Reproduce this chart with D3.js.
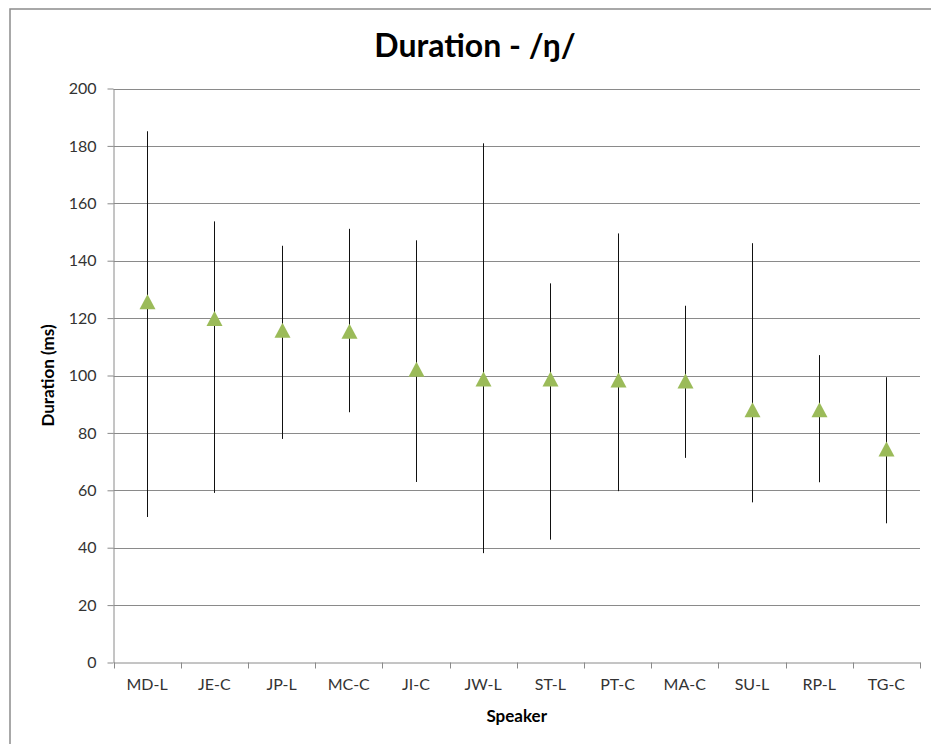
<!DOCTYPE html>
<html>
<head>
<meta charset="utf-8">
<script src="https://cdn.jsdelivr.net/npm/d3@7"></script>
<style>
  body { margin: 0; background: #fff; }
  text { font-family: Lato, "Open Sans", sans-serif; }
</style>
</head>
<body>
<svg id="chart" width="931" height="744"></svg>
<script>
// values (ms)
const speakers = ['MD-L', 'JE-C', 'JP-L', 'MC-C', 'JI-C', 'JW-L', 'ST-L', 'PT-C', 'MA-C', 'SU-L', 'RP-L', 'TG-C']
const means = [125.7, 119.9, 115.8, 115.4, 102.2, 98.8, 98.8, 98.4, 98.1, 88.1, 88.1, 74.4]
const maxs = [185.1, 153.7, 145.2, 151.1, 147.1, 180.9, 132.1, 149.5, 124.3, 146.1, 107.1, 99.4]
const mins = [50.7, 59.1, 77.9, 87.2, 62.9, 38.1, 42.8, 59.7, 71.3, 55.8, 62.8, 48.5]
const yTicks = [0, 20, 40, 60, 80, 100, 120, 140, 160, 180, 200]

const plot = { left: 113.5, right: 920, top: 88.5, bottom: 662.5 }
const gridColor = '#8a8a8a'
const green = '#9bbb59'

const svg = d3.select('#chart')

// outer chart frame (runs off the picture at right and bottom)
svg.append('rect')
    .attr('x', 10).attr('y', 9)
    .attr('width', 980).attr('height', 800)
    .attr('fill', '#fff')
    .attr('stroke', '#8c8c8c')
    .attr('stroke-width', 1.5)

const x = d3.scaleBand()
    .domain(speakers)
    .range([plot.left, plot.right])

const y = d3.scaleLinear()
    .domain([0, 200])
    .range([plot.bottom, plot.top])

// horizontal gridlines
svg.append('g')
    .selectAll('line')
    .data(yTicks.filter(d => d > 0))
    .join('line')
    .attr('x1', plot.left).attr('x2', plot.right)
    .attr('y1', d => Math.round(y(d)) + 0.5)
    .attr('y2', d => Math.round(y(d)) + 0.5)
    .attr('stroke', gridColor)
    .attr('stroke-width', 1)

// y axis
const yAxis = svg.append('g')
    .attr('transform', `translate(${plot.left},0)`)
    .call(d3.axisLeft(y).tickValues(yTicks).tickSize(6).tickSizeOuter(0).tickPadding(11))
yAxis.select('.domain').attr('stroke', gridColor)
yAxis.selectAll('.tick line').attr('stroke', gridColor)
yAxis.selectAll('.tick text')
    .attr('font-size', 16)
    .attr('fill', '#333')
    .style('font-family', 'Lato, sans-serif')

// x axis: labels at band centres, tick marks between categories
const xAxis = svg.append('g')
    .attr('transform', `translate(0,${plot.bottom})`)
    .call(d3.axisBottom(x).tickSize(0).tickPadding(16))
xAxis.select('.domain').attr('stroke', gridColor)
xAxis.selectAll('.tick text')
    .attr('font-size', 16)
    .attr('fill', '#333')
    .style('font-family', 'Lato, sans-serif')

const bounds = speakers.map(d => x(d)).concat([x.range()[1]])
xAxis.selectAll('line.sep')
    .data(bounds)
    .join('line')
    .attr('class', 'sep')
    .attr('x1', d => Math.round(d) + 0.5).attr('x2', d => Math.round(d) + 0.5)
    .attr('y1', 0).attr('y2', 6)
    .attr('stroke', gridColor)

// range lines (min to max)
const cx = d => x(d) + x.bandwidth() / 2
svg.append('g')
    .selectAll('line')
    .data(speakers)
    .join('line')
    .attr('x1', (d, i) => Math.round(cx(d)) + 0.5)
    .attr('x2', (d, i) => Math.round(cx(d)) + 0.5)
    .attr('y1', (d, i) => y(maxs[i]))
    .attr('y2', (d, i) => y(mins[i]))
    .attr('stroke', '#111')
    .attr('stroke-width', 1)

// triangle markers, box centred on the value
const triangle = (px, py) => {
    const p = d3.path()
    p.moveTo(px, py - 7.5)
    p.lineTo(px + 8, py + 7.5)
    p.lineTo(px - 8, py + 7.5)
    p.closePath()
    return p.toString()
}
svg.append('g')
    .selectAll('path')
    .data(speakers)
    .join('path')
    .attr('d', (d, i) => triangle(Math.round(cx(d)) + 0.5, y(means[i])))
    .attr('fill', green)

// titles
svg.append('text')
    .attr('x', 475).attr('y', 57)
    .attr('text-anchor', 'middle')
    .attr('font-size', 32)
    .attr('font-weight', 'bold')
    .attr('fill', '#000')
    .text('Duration - /ŋ/')

svg.append('text')
    .attr('transform', `translate(54,${(plot.top + plot.bottom) / 2}) rotate(-90)`)
    .attr('text-anchor', 'middle')
    .attr('font-size', 17)
    .attr('font-weight', 'bold')
    .attr('fill', '#000')
    .text('Duration (ms)')

svg.append('text')
    .attr('x', (plot.left + plot.right) / 2).attr('y', 722)
    .attr('text-anchor', 'middle')
    .attr('font-size', 17)
    .attr('font-weight', 'bold')
    .attr('fill', '#000')
    .text('Speaker')
</script>
</body>
</html>
